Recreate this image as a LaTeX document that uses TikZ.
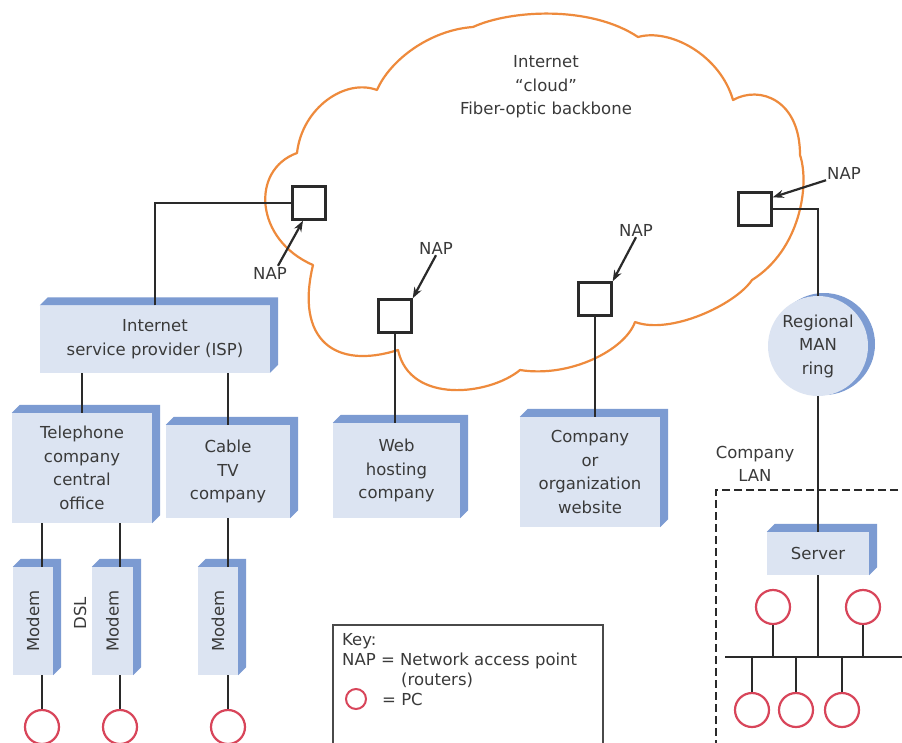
\documentclass[tikz,border=0pt]{standalone}
\usepackage{fontspec}
\setmainfont{DejaVu Sans}
\usetikzlibrary{arrows.meta}
\definecolor{boxface}{HTML}{DCE4F2}
\definecolor{boxside}{HTML}{7C9BD2}
\definecolor{cloudorange}{HTML}{EE8A3C}
\definecolor{pcred}{HTML}{D8455A}
\definecolor{txt}{HTML}{3A3A3A}
\definecolor{wire}{HTML}{2A2A2A}
\tikzset{
 base/.style={font=\fontsize{16.5}{23.5}\selectfont, text=txt},
 box3d/.style={base, fill=boxface, align=center, inner sep=0pt},
 napbox/.style={draw=wire, line width=2.4pt, fill=white, minimum size=33pt, inner sep=0pt},
 wireline/.style={draw=wire, line width=1.9pt},
 naparrow/.style={draw=wire, line width=2.2pt, -{Stealth[length=11pt,width=8pt]}},
 pc/.style={circle, draw=pcred, line width=2.2pt, minimum size=34pt, inner sep=0pt, fill=white},
 lbl/.style={base, align=center, inner sep=1pt},
}
\newcommand{\depthof}[1]{%
 \fill[boxside] (#1.north west) -- ([shift={(8pt,8pt)}]#1.north west) -- ([shift={(8pt,8pt)}]#1.north east) -- ([shift={(8pt,8pt)}]#1.south east) -- (#1.south east) -- (#1.north east) -- cycle;}
\begin{document}
\begin{tikzpicture}[x=1pt,y=-1pt]
\useasboundingbox (0,0) rectangle (902,742);
\clip (0,0) rectangle (902,742);
\fill[white] (0,0) rectangle (902,742);

% cloud
\draw[cloudorange, line width=2.2pt, line join=round]
 (297,153) .. controls (302,108) and (345,78) .. (377,90)
 .. controls (390,60) and (430,30) .. (473,27)
 .. controls (510,10) and (590,5) .. (638,37)
 .. controls (670,28) and (720,55) .. (733,100)
 .. controls (760,85) and (800,100) .. (800,155)
 .. controls (810,185) and (800,250) .. (752,280)
 .. controls (735,305) and (670,335) .. (635,322)
 .. controls (625,350) and (570,378) .. (520,370)
 .. controls (490,395) and (410,405) .. (398,350)
 .. controls (335,370) and (295,340) .. (313,265)
 .. controls (255,240) and (250,170) .. (297,153) -- cycle;
\node[lbl] (cloudtxt) at (546,87) {Internet\\“cloud”\\Fiber-optic backbone};

% boxes
\node[box3d, minimum width=230pt, minimum height=67pt] (isp) at (155,339) {Internet\\service provider (ISP)};
\depthof{isp}
\node[box3d, minimum width=140pt, minimum height=110pt] (tel) at (82,468) {Telephone\\company\\central\\office};
\depthof{tel}
\node[box3d, minimum width=124pt, minimum height=93pt] (cable) at (228,471.5) {Cable\\TV\\company};
\depthof{cable}
\node[box3d, minimum width=127pt, minimum height=95pt] (web) at (396.5,470.5) {Web\\hosting\\company};
\depthof{web}
\node[box3d, minimum width=140pt, minimum height=110pt] (comp) at (590,472) {Company\\or\\organization\\website};
\depthof{comp}
\node[box3d, minimum width=102pt, minimum height=43pt] (server) at (818,553.5) {Server};
\depthof{server}
\node[box3d, minimum width=40pt, minimum height=108pt] (m1) at (33,621) {\rotatebox{90}{Modem}};
\depthof{m1}
\node[box3d, minimum width=41pt, minimum height=108pt] (m2) at (112.5,621) {\rotatebox{90}{Modem}};
\depthof{m2}
\node[box3d, minimum width=40pt, minimum height=108pt] (m3) at (218,621) {\rotatebox{90}{Modem}};
\depthof{m3}
\node[base] (dsl) at (80,613) {\rotatebox{90}{DSL}};

% ring
\fill[boxside] (824,344) circle[radius=51pt];
\node[circle, fill=boxface, minimum size=100pt, inner sep=0pt, lbl] (ring) at (818,346) {Regional\\MAN\\ring};
\node[lbl] (lan) at (755,464) {Company\\LAN};

% PCs
\node[pc] (pc1) at (42,727) {};
\node[pc] (pc2) at (120,727) {};
\node[pc] (pc3) at (228,727) {};
\node[pc] (pc4) at (773,607) {};
\node[pc] (pc5) at (863,607) {};
\node[pc] (pc6) at (752,710) {};
\node[pc] (pc7) at (796,710) {};
\node[pc] (pc8) at (842,710) {};
\coordinate (busl) at (725,657);
\coordinate (busr) at (910,657);

% NAP squares
\node[napbox] (nap1) at (309,203) {};
\node[napbox] (nap2) at (395,316) {};
\node[napbox] (nap3) at (595,299) {};
\node[napbox] (nap4) at (755,209) {};
\node[lbl] (nl1) at (270,273) {NAP};
\node[lbl] (nl2) at (436,248) {NAP};
\node[lbl] (nl3) at (636,230) {NAP};
\node[lbl] (nl4) at (844,173) {NAP};

% connectors
\draw[wireline] (isp.north) |- (nap1.west);
\draw[wireline] (tel.north) -- (tel.north |- isp.south);
\draw[wireline] (cable.north) -- (cable.north |- isp.south);
\draw[wireline] (tel.south -| pc1) -- (m1.north -| pc1);
\draw[wireline] (tel.south -| pc2) -- (m2.north -| pc2);
\draw[wireline] (cable.south -| pc3) -- (m3.north -| pc3);
\draw[wireline] (m1.south -| pc1) -- (pc1.north);
\draw[wireline] (m2.south -| pc2) -- (pc2.north);
\draw[wireline] (m3.south -| pc3) -- (pc3.north);
\draw[wireline] (nap2.south) -- (nap2.south |- web.north);
\draw[wireline] (nap3.south) -- (nap3.south |- comp.north);
\draw[wireline] (nap4.east) -| (ring.north);
\draw[wireline] (ring.south) -- (ring.south |- server.north);
\draw[wireline] (server.south) -- (server.south |- busl);
\draw[wireline] (busl) -- (busr);
\draw[wireline] (pc4.south) -- (pc4.south |- busl);
\draw[wireline] (pc5.south) -- (pc5.south |- busl);
\draw[wireline] (pc6.north) -- (pc6.north |- busl);
\draw[wireline] (pc7.north) -- (pc7.north |- busl);
\draw[wireline] (pc8.north) -- (pc8.north |- busl);

\draw[naparrow] ([xshift=8pt]nl1.north) -- ([xshift=-6pt]nap1.south);
\draw[naparrow] (nl2.south) -- (nap2.north east);
\draw[naparrow] (nl3.south) -- (nap3.north east);
\draw[naparrow] (nl4.south west) -- ([yshift=-6pt]nap4.north east);

% company LAN boundary
\draw[wire, line width=1.8pt, dash pattern=on 8pt off 4pt] (910,490) -| (716,760);

% key
\draw[wire!85, line width=1.8pt] (333,760) |- (603,625) -- (603,760);
\node[base, anchor=west, inner sep=0pt] (key) at (342,641) {Key:};
\node[base, anchor=west, inner sep=0pt] (keynap) at (342,661) {NAP = Network access point};
\node[base, anchor=west, inner sep=0pt] (keyrt) at (401,680) {(routers)};
\node[pc, minimum size=20pt, line width=2pt] (keypc) at (356,699) {};
\node[base, anchor=west, inner sep=0pt] (keypct) at (382,699) {= PC};
\end{tikzpicture}
\end{document}
